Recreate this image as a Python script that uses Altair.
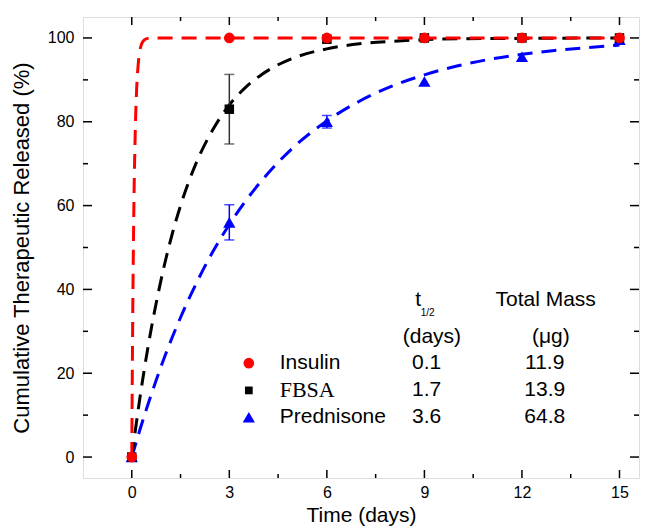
import altair as alt
import pandas as pd

time_days = [0, 3, 6, 9, 12, 15]
insulin = [0, 100, 100, 100, 100, 100]
fbsa = [0, 83, 99.7, 100, 100, 100]
prednisone = [0, 56, 80, 89.6, 95.5, 99.6]

err_fbsa_t = [3]
err_fbsa_y = [83]
err_fbsa_e = [8.3]
err_pred_t = [3, 6]
err_pred_y = [56, 80]
err_pred_e = [4.2, 1.5]

# ---- fitted release curves ----
ins_fit_t = [0, 0.03, 0.06, 0.1, 0.15, 0.2, 0.25, 0.3, 0.4, 0.5, 0.7, 1.0, 15]
ins_fit_y = [0, 34.0, 56.9, 75.3, 87.8, 93.9, 97.0, 98.5, 99.6, 99.9, 100, 100, 100]
fbsa_fit_t = [0, 0.25, 0.5, 0.75, 1, 1.25, 1.5, 2, 2.5, 3, 3.5, 4, 4.5, 5, 6, 7, 8, 9, 10, 12, 15]
fbsa_fit_y = [0, 14.1, 26.3, 36.7, 45.7, 53.4, 60.0, 70.5, 78.2, 84.0, 88.2, 91.3, 93.6, 95.3,
              97.4, 98.6, 99.2, 99.6, 99.8, 99.9, 100]
pred_fit_t = [0, 0.25, 0.5, 0.75, 1, 1.5, 2, 2.5, 3, 3.5, 4, 5, 6, 7, 8, 9, 10, 11, 12, 13, 14, 15]
pred_fit_y = [0, 6.5, 12.6, 18.3, 23.7, 33.3, 41.7, 49.1, 55.5, 61.1, 66.0, 74.1, 80.2, 84.9,
              88.5, 91.2, 93.3, 94.9, 96.1, 97.0, 97.7, 98.3]

# ---- table / legend text ----
names = ["Insulin", "FBSA", "Prednisone"]
t_half = ["0.1", "1.7", "3.6"]
total_mass = ["11.9", "13.9", "64.8"]

x_ticks = [0, 3, 6, 9, 12, 15]
x_minor = [1.5, 4.5, 7.5, 10.5, 13.5]
y_ticks = [0, 20, 40, 60, 80, 100]
y_minor = [10, 30, 50, 70, 90]

RED, BLACK, BLUE = "#ff0000", "#000000", "#0000ff"
W, H = 556, 461
FONT = "Liberation Sans"

xscale = alt.Scale(domain=[-1.5, 15.6], nice=False, zero=False)
yscale = alt.Scale(domain=[-5, 105], nice=False, zero=False)
xaxis = alt.Axis(values=x_ticks, title="Time (days)", grid=False, domain=False, ticks=False,
                 tickSize=0, labelFontSize=16, titleFontSize=21, labelPadding=6,
                 titlePadding=4, titleFontWeight="normal", labelColor="black",
                 titleColor="black", labelFont=FONT, titleFont=FONT)
yaxis = alt.Axis(values=y_ticks, title="Cumulative Therapeutic Released (%)", grid=False,
                 domain=False, ticks=False, tickSize=0, labelFontSize=16, titleFontSize=22,
                 labelPadding=9, titlePadding=14, titleFontWeight="normal",
                 labelColor="black", titleColor="black", labelFont=FONT, titleFont=FONT)


def X(f):
    return alt.X(f"{f}:Q", scale=xscale, axis=xaxis)


def Y(f):
    return alt.Y(f"{f}:Q", scale=yscale, axis=yaxis)


def curve(ts, ys, color):
    df = pd.DataFrame({"t": ts, "v": ys})
    return alt.Chart(df).mark_line(color=color, strokeWidth=3, strokeDash=[15, 9],
                                   interpolate="monotone", clip=True).encode(x=X("t"), y=Y("v"))


def points(ys, shape, color, size):
    df = pd.DataFrame({"t": time_days, "v": ys})
    return alt.Chart(df).mark_point(shape=shape, filled=True, color=color, size=size,
                                    opacity=1).encode(x=X("t"), y=Y("v"))


def errbars(ts, ys, es, color):
    df = pd.DataFrame({"t": ts, "lo": [y - e for y, e in zip(ys, es)],
                       "hi": [y + e for y, e in zip(ys, es)]})
    base = alt.Chart(df)
    rule = base.mark_rule(color=color, strokeWidth=1.5).encode(x=X("t"), y=Y("lo"), y2="hi:Q")
    lo = base.mark_tick(color=color, orient="horizontal", size=10, thickness=1.5).encode(
        x=X("t"), y=Y("lo"))
    hi = base.mark_tick(color=color, orient="horizontal", size=10, thickness=1.5).encode(
        x=X("t"), y=Y("hi"))
    return rule + lo + hi


def xtick_rules(vals, length):
    df = pd.DataFrame({"t": vals})
    b = alt.Chart(df).mark_rule(color="black", strokeWidth=1.5)
    return (b.encode(x=X("t"), y=alt.value(H), y2=alt.value(H - length)) +
            b.encode(x=X("t"), y=alt.value(0), y2=alt.value(length)))


def ytick_rules(vals, length):
    df = pd.DataFrame({"v": vals})
    b = alt.Chart(df).mark_rule(color="black", strokeWidth=1.5)
    return (b.encode(y=Y("v"), x=alt.value(0), x2=alt.value(length)) +
            b.encode(y=Y("v"), x=alt.value(W), x2=alt.value(W - length)))


def text_layer(labels, xs, ys, size, align="center", font=FONT):
    df = pd.DataFrame({"label": labels, "x": xs, "y": ys})
    return alt.Chart(df).mark_text(fontSize=size, align=align, baseline="middle", font=font,
                                   color="black").encode(x=X("x"), y=Y("y"), text="label:N")


row_y = [22.4, 15.9, 9.5]

headers = text_layer(["t", "Total Mass", "(days)", "(\u03bcg)"], [8.81, 12.73, 9.23, 12.89],
                     [37.4, 37.4, 28.6, 28.6], 21)
subscript = text_layer(["1/2"], [9.1], [34.3], 10)
name_sans = text_layer([names[0], names[2]], [4.55, 4.55], [row_y[0], row_y[2]], 21, align="left")
name_serif = text_layer([names[1]], [4.55], [row_y[1]], 22, align="left", font="Liberation Serif")
thalf_txt = text_layer(t_half, [9.07] * 3, row_y, 21)
mass_txt = text_layer(total_mass, [12.7] * 3, row_y, 21)

leg = pd.DataFrame({"x": [3.6] * 3, "y": row_y, "name": names})
leg_c = alt.Chart(leg.iloc[[0]]).mark_point(shape="circle", filled=True, color=RED, size=115,
                                             opacity=1).encode(x=X("x"), y=Y("y"))
leg_s = alt.Chart(leg.iloc[[1]]).mark_point(shape="square", filled=True, color=BLACK, size=60,
                                             opacity=1).encode(x=X("x"), y=Y("y"))
leg_t = alt.Chart(leg.iloc[[2]]).mark_point(shape="triangle-up", filled=True, color=BLUE, size=150,
                                             opacity=1).encode(x=X("x"), y=Y("y"))

chart = alt.layer(
    curve(pred_fit_t, pred_fit_y, BLUE),
    curve(fbsa_fit_t, fbsa_fit_y, BLACK),
    curve(ins_fit_t, ins_fit_y, RED),
    errbars(err_fbsa_t, err_fbsa_y, err_fbsa_e, "#333333"),
    errbars(err_pred_t, err_pred_y, err_pred_e, BLUE),
    points(prednisone, "triangle-up", BLUE, 150),
    points(fbsa, "square", BLACK, 90),
    points(insulin, "circle", RED, 115),
    xtick_rules(x_ticks, 8),
    xtick_rules(x_minor, 4),
    ytick_rules(y_ticks, 9),
    ytick_rules(y_minor, 5),
    headers, subscript, name_sans, name_serif, thalf_txt, mass_txt,
    leg_c, leg_s, leg_t,
).properties(
    width=W, height=H,
    autosize=alt.AutoSizeParams(type="none"),
    padding={"left": 75, "top": 9, "right": 2, "bottom": 50},
).configure_view(
    stroke="black", strokeWidth=2
).configure(font=FONT, background="white")

chart.save("out.html", embed_options={"renderer": "svg", "actions": False})
